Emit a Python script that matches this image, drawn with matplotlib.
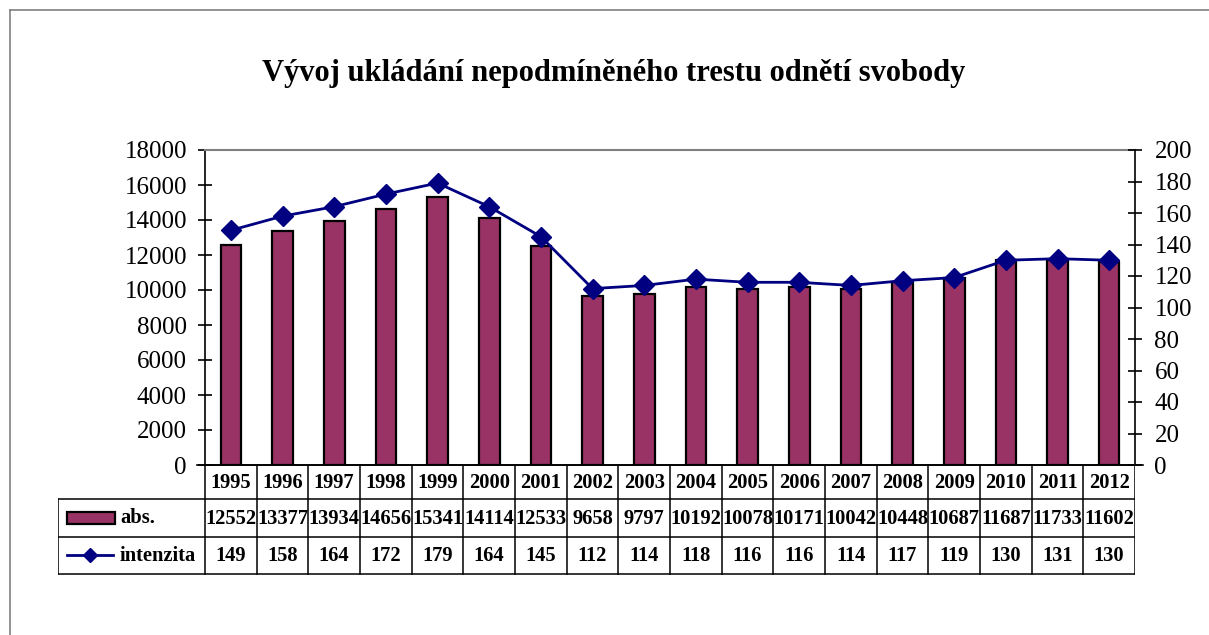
import matplotlib
matplotlib.use("Agg")
import matplotlib.pyplot as plt
from matplotlib.lines import Line2D
from matplotlib.patches import Rectangle

years = [1995, 1996, 1997, 1998, 1999, 2000, 2001, 2002, 2003, 2004,
         2005, 2006, 2007, 2008, 2009, 2010, 2011, 2012]
abs_vals = [12552, 13377, 13934, 14656, 15341, 14114, 12533, 9658, 9797, 10192,
            10078, 10171, 10042, 10448, 10687, 11687, 11733, 11602]
intenzita = [149, 158, 164, 172, 179, 164, 145, 112, 114, 118,
             116, 116, 114, 117, 119, 130, 131, 130]
left_ticks = list(range(0, 18001, 2000))
right_ticks = list(range(0, 201, 20))

BAR_COLOR = '#993366'
LINE_COLOR = '#000080'
FONT = 'Liberation Serif'
plt.rcParams['font.family'] = FONT

W, H = 1209, 635
fig = plt.figure(figsize=(W / 100, H / 100), dpi=100)


def rect(l, t, r, b):
    # pixel box -> figure fraction
    return [l / W, 1 - b / H, (r - l) / W, (b - t) / H]


# outer frame (only left and top edges visible)
fig.add_artist(Line2D([10 / W, 10 / W], [0, 1 - 10 / H], color='#808080', lw=1.2))
fig.add_artist(Line2D([10 / W, 1], [1 - 10 / H, 1 - 10 / H], color='#808080', lw=1.2))

fig.text(614 / W, 1 - 73 / H, 'Vývoj ukládání nepodmíněného trestu odnětí svobody',
         ha='center', va='center', fontsize=22, fontweight='bold')

PL, PT, PR, PB = 205, 150, 1135, 465
ax = fig.add_axes(rect(PL, PT, PR, PB))
x = list(range(len(years)))
ax.bar(x, abs_vals, width=0.4, color=BAR_COLOR, edgecolor='black', linewidth=1.6, zorder=2)
ax.set_xlim(-0.5, len(years) - 0.5)
ax.set_ylim(0, 18000)
ax.set_yticks(left_ticks)
ax.set_xticks([])
ax.tick_params(axis='y', direction='inout', length=10, width=1.2, pad=8, labelsize=18)
for s in ['left', 'bottom']:
    ax.spines[s].set_color('black')
    ax.spines[s].set_linewidth(1.2)
ax.spines['top'].set_color('#808080')
ax.spines['top'].set_linewidth(1.5)
ax.spines['right'].set_visible(False)
ax.patch.set_visible(False)

ax2 = ax.twinx()
ax2.plot(x, intenzita, color=LINE_COLOR, lw=2, marker='D', markersize=10.5, zorder=3)
ax2.set_ylim(0, 200)
ax2.set_yticks(right_ticks)
ax2.tick_params(axis='y', direction='inout', length=10, width=1.2, pad=9, labelsize=18)
ax2.spines['right'].set_color('black')
ax2.spines['right'].set_linewidth(1.2)
for s in ['left', 'top', 'bottom']:
    ax2.spines[s].set_visible(False)

# extend baseline slightly beyond both axes like the zero tick marks
ax.plot([-0.5 - 8 / 51.67, len(years) - 0.5 + 8 / 51.67], [0, 0], color='black',
        lw=1.2, clip_on=False, zorder=4)

# data table below the chart
TL, TR = 58, PR
col_w = (PR - PL) / len(years)
x0 = -0.5 - (PL - TL) / col_w
tax = fig.add_axes(rect(TL, PB, TR, 576))
tax.set_xlim(x0, len(years) - 0.5)
tax.set_ylim(576, PB)
tax.axis('off')

rows = [PB, 499, 537, 574]
lkw = dict(color='black', lw=1.1)
for i in range(len(years) + 1):
    tax.plot([i - 0.5, i - 0.5], [rows[0], rows[3]], **lkw)
for yy in rows[1:]:
    tax.plot([x0, len(years) - 0.5], [yy, yy], **lkw)
tax.plot([x0, x0], [rows[1], rows[3]], **lkw)

tkw = dict(ha='center', va='center', fontsize=14.8, fontweight='bold')
for i, (yr, a, v) in enumerate(zip(years, abs_vals, intenzita)):
    tax.text(i, (rows[0] + rows[1]) / 2 + 1, str(yr), **tkw)
    tax.text(i, (rows[1] + rows[2]) / 2 + 1, str(a), **tkw)
    tax.text(i, (rows[2] + rows[3]) / 2 + 1, str(v), **tkw)


def px(p):
    return x0 + (p - TL) / col_w


tax.add_patch(Rectangle((px(67), 512), px(115) - px(67), 12, facecolor=BAR_COLOR,
                        edgecolor='black', lw=1.6))
tax.text(px(120), 518, 'abs.', ha='left', va='center', fontsize=14.8, fontweight='bold')
tax.plot([px(67), px(113)], [555, 555], color=LINE_COLOR, lw=2)
tax.plot([px(90)], [555], color=LINE_COLOR, marker='D', markersize=7)
tax.text(px(120), 556, 'intenzita', ha='left', va='center', fontsize=14.8, fontweight='bold')

fig.savefig('out.png', dpi=100)
